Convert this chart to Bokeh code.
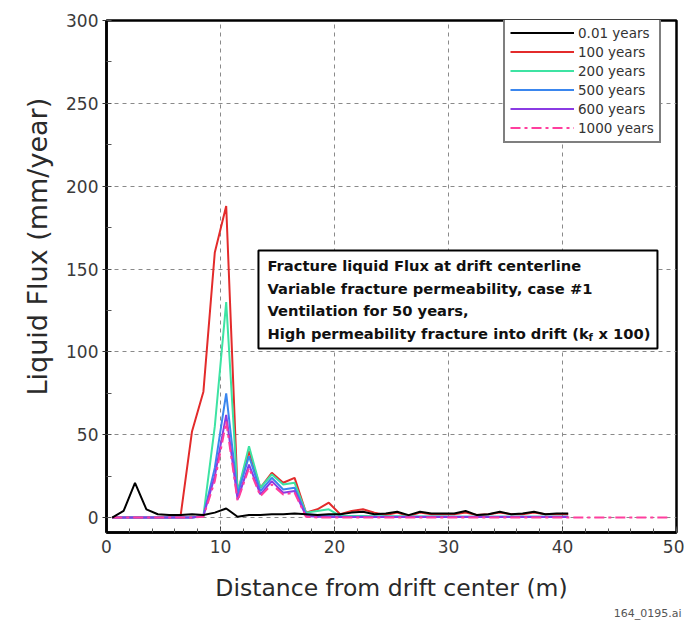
from bokeh.plotting import figure
from bokeh.models import (Legend, LegendItem, SingleIntervalTicker, BoxAnnotation,
                          Label, Title)
from bokeh.embed import file_html
from bokeh.resources import INLINE

# ---------------- data ----------------
distance = [0.5, 1.5, 2.5, 3.5, 4.5, 5.5, 6.5, 7.5, 8.5, 9.5,
            10.5, 11.5, 12.5, 13.5, 14.5, 15.5, 16.5, 17.5, 18.5, 19.5,
            20.5, 21.5, 22.5, 23.5, 24.5, 25.5, 26.5, 27.5, 28.5, 29.5,
            30.5, 31.5, 32.5, 33.5, 34.5, 35.5, 36.5, 37.5, 38.5, 39.5, 40.5]
distance_1000 = distance + [41.5, 42.5, 43.5, 44.5, 45.5, 46.5, 47.5, 48.5, 49.5]

flux_001 = [0, 4, 21, 5, 2, 1.5, 1.5, 2, 1.5, 3,
            5.5, 0.5, 1.5, 1.5, 2, 2, 2.5, 2, 1.5, 2,
            2, 3, 3.5, 2, 2.5, 3.5, 1.5, 3.5, 2.5, 2.5,
            2.5, 4, 1.5, 2, 3.5, 2, 2.5, 3.5, 2, 2.5, 2.5]
flux_100 = [0, 0, 0, 0, 0, 0, 1, 52, 76, 160,
            188, 15, 40, 18, 27, 21, 24, 3, 5, 9,
            2, 4, 5, 3, 1.5, 3, 1, 3, 2, 2,
            2, 3, 1.5, 2, 3, 2, 2, 3, 2, 2, 2]
flux_200 = [0, 0, 0, 0, 0, 0, 0, 0, 1, 55,
            130, 15, 43, 18, 26, 20, 21, 3, 4, 5,
            1, 1, 1, 0.8, 0.8, 0.8, 0.6, 0.6, 0.6, 0.6,
            0.5, 0.5, 0.5, 0.5, 0.5, 0.5, 0.5, 0.5, 0.5, 0.5, 0.5]
flux_500 = [0, 0, 0, 0, 0, 0, 0, 0, 1, 30,
            75, 14, 37, 16, 24, 17, 18, 2, 1.5, 1,
            0.5, 0.5, 0.5, 0.5, 0.5, 0.5, 0.5, 0.5, 0.5, 0.5,
            0.5, 0.5, 0.5, 0.5, 0.5, 0.5, 0.5, 0.5, 0.5, 0.5, 0.5]
flux_600 = [0, 0, 0, 0, 0, 0, 0, 0, 1, 25,
            62, 11, 32, 14, 22, 15, 16, 1, 0.5, 0.4,
            0.3, 0.3, 0.3, 0.3, 0.3, 0.3, 0.3, 0.3, 0.3, 0.3,
            0.3, 0.3, 0.3, 0.3, 0.3, 0.3, 0.3, 0.3, 0.3, 0.3, 0.3]
flux_1000 = [0, 0, 0, 0, 0, 0, 0, 0, 0.5, 22,
             58, 10, 30, 13, 20, 14, 15, 0.5, 0, 0,
             0, 0, 0, 0, 0, 0, 0, 0, 0, 0,
             0, 0, 0, 0, 0, 0, 0, 0, 0, 0, 0,
             0, 0, 0, 0, 0, 0, 0, 0, 0]

series_labels = ["0.01 years", "100 years", "200 years", "500 years", "600 years", "1000 years"]
x_ticks_interval = 10
y_ticks_interval = 50

note_lines = ["Fracture liquid Flux at drift centerline",
              "Variable fracture permeability, case #1",
              "Ventilation for 50 years,",
              "High permeability fracture into drift (k"]

FONT = "DejaVu Sans"

# ---------------- figure ----------------
p = figure(width=684, height=626, x_range=(0, 50), y_range=(-9, 300),
           output_backend="svg", toolbar_location=None,
           min_border_left=106, min_border_right=8, min_border_top=20, min_border_bottom=94)
p.background_fill_color = "white"
p.border_fill_color = "white"
p.outline_line_color = "black"
p.outline_line_width = 2.5

p.xaxis.ticker = SingleIntervalTicker(interval=x_ticks_interval, num_minor_ticks=5)
p.yaxis.ticker = SingleIntervalTicker(interval=y_ticks_interval, num_minor_ticks=2)

for ax in (p.xaxis[0], p.yaxis[0]):
    ax.axis_line_color = "black"
    ax.axis_line_width = 2.5
    ax.major_tick_line_color = "#333333"
    ax.minor_tick_line_color = "#555555"
    ax.major_label_text_font = FONT
    ax.major_label_text_font_size = "17px"
    ax.major_label_text_color = "#3a3a3a"

p.xaxis.major_tick_in = 6
p.xaxis.major_tick_out = 0
p.xaxis.minor_tick_in = 4
p.xaxis.minor_tick_out = 0
p.xaxis.major_label_standoff = 7
p.xaxis.axis_label = "Distance from drift center (m)"
p.xaxis.axis_label_text_font = FONT
p.xaxis.axis_label_text_font_size = "23.5px"
p.xaxis.axis_label_text_font_style = "normal"
p.xaxis.axis_label_text_color = "#2a2a2a"
p.xaxis.axis_label_standoff = 18

p.yaxis.major_tick_in = 0
p.yaxis.major_tick_out = 4
p.yaxis.minor_tick_in = 5
p.yaxis.minor_tick_out = 0
p.yaxis.major_label_standoff = 4

p.xgrid.grid_line_color = "#8a8a8a"
p.ygrid.grid_line_color = "#8a8a8a"
p.xgrid.grid_line_dash = "4 4"
p.ygrid.grid_line_dash = "4 4"
p.xgrid.grid_line_width = 1
p.ygrid.grid_line_width = 1

# y-axis title as a left-side title, placed higher like the reference
ytitle = Title(text="Liquid Flux (mm/year)", align="left", offset=137,
               text_font=FONT, text_font_size="27px", text_font_style="normal",
               text_color="#2a2a2a", standoff=22)
p.add_layout(ytitle, "left")

ref = Title(text="164_0195.ai", align="right", offset=-5, standoff=0,
            text_font=FONT, text_font_size="11px", text_font_style="normal",
            text_color="#555555")
p.add_layout(ref, "below")

# ---------------- lines ----------------
r100 = p.line(distance, flux_100, line_color="#e32b2b", line_width=2)
r200 = p.line(distance, flux_200, line_color="#3de3a3", line_width=2)
r500 = p.line(distance, flux_500, line_color="#3a86ee", line_width=2)
r600 = p.line(distance, flux_600, line_color="#8a3be3", line_width=2)
r1000 = p.line(distance_1000, flux_1000, line_color="#ff3e9e", line_width=2,
               line_dash="10 4 3 4")
r001 = p.line(distance, flux_001, line_color="black", line_width=2)

legend = Legend(items=[
    LegendItem(label=series_labels[0], renderers=[r001]),
    LegendItem(label=series_labels[1], renderers=[r100]),
    LegendItem(label=series_labels[2], renderers=[r200]),
    LegendItem(label=series_labels[3], renderers=[r500]),
    LegendItem(label=series_labels[4], renderers=[r600]),
    LegendItem(label=series_labels[5], renderers=[r1000]),
], location=(397, 389))
legend.border_line_color = "black"
legend.border_line_width = 2
legend.background_fill_color = "white"
legend.background_fill_alpha = 1
legend.padding = 5
legend.spacing = 2
legend.margin = 0
legend.glyph_width = 64
legend.glyph_height = 17
legend.label_height = 17
legend.label_standoff = 4
legend.label_text_font = FONT
legend.label_text_font_size = "13.5px"
legend.label_text_color = "#333333"
p.add_layout(legend, "center")

# ---------------- annotation box ----------------
box = BoxAnnotation(left=13.33, right=48.33, top=161.2, bottom=102.0,
                    fill_color="white", fill_alpha=1,
                    line_color="black", line_alpha=1, line_width=2)
p.add_layout(box)

line_y = [152.1, 138.2, 124.9, 111.1]
for txt, yy in zip(note_lines, line_y):
    p.add_layout(Label(x=14.12, y=yy, text=txt, text_font=FONT,
                       text_font_size="14.7px", text_font_style="bold",
                       text_baseline="middle", text_color="#111111"))
p.add_layout(Label(x=14.12, y=line_y[3], x_offset=321, y_offset=-4, text="f",
                   text_font=FONT, text_font_size="10px", text_font_style="bold",
                   text_baseline="middle", text_color="#111111"))
p.add_layout(Label(x=14.12, y=line_y[3], x_offset=331, text="x 100)",
                   text_font=FONT, text_font_size="14.7px", text_font_style="bold",
                   text_baseline="middle", text_color="#111111"))

open("out.html", "w").write(file_html(p, INLINE))
